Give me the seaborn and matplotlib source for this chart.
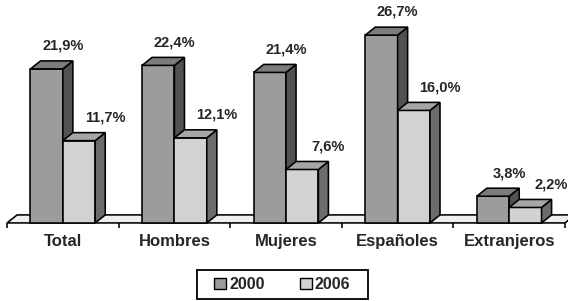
import numpy as np
import pandas as pd
import seaborn as sns
import matplotlib.pyplot as plt
from matplotlib.patches import Polygon, Rectangle

# datos
categorias = ["Total", "Hombres", "Mujeres", "Españoles", "Extranjeros"]
anios = ["2000", "2006"]
valores_2000 = [21.9, 22.4, 21.4, 26.7, 3.8]
valores_2006 = [11.7, 12.1, 7.6, 16.0, 2.2]
etiquetas_2000 = ["21,9%", "22,4%", "21,4%", "26,7%", "3,8%"]
etiquetas_2006 = ["11,7%", "12,1%", "7,6%", "16,0%", "2,2%"]

color_frente = {"2000": "#9c9c9c", "2006": "#d2d2d2"}
color_techo = {"2000": "#7c7c7c", "2006": "#a6a6a6"}
color_lado = {"2000": "#525252", "2006": "#6c6c6c"}

df = pd.DataFrame({
    "categoria": categorias * 2,
    "anio": ["2000"] * len(categorias) + ["2006"] * len(categorias),
    "valor": valores_2000 + valores_2006,
})
etiquetas = {"2000": etiquetas_2000, "2006": etiquetas_2006}

sns.set_style("white")
plt.rcParams["font.family"] = ["Liberation Sans", "DejaVu Sans"]

fig = plt.figure(figsize=(5.68, 3.01), dpi=100)
ax = fig.add_axes([0, 0, 1, 1])

sns.barplot(data=df, x="categoria", y="valor", hue="anio", palette=color_frente,
            width=0.58, edgecolor="black", linewidth=1.15, saturation=1,
            legend=False, ax=ax)

ax.set_xlim(-0.563, 4.527)
ax.set_ylim(-11.1, 31.7)
ax.axis("off")

# profundidad del efecto 3D
dx = 0.09
dy = 1.14

# suelo
suelo = Polygon([(-0.5, 0), (4.5, 0), (4.5 + dx, dy), (-0.5 + dx, dy)],
                facecolor="#efefef", edgecolor="black", lw=1.15, zorder=1)
ax.add_patch(suelo)
ax.vlines(np.arange(-0.5, len(categorias)), -0.65, 0, color="black", lw=1.15, zorder=1)

for i, cont in enumerate(ax.containers):
    anio = anios[i]
    for j, bar in enumerate(cont):
        x0 = bar.get_x()
        w = bar.get_width()
        h = bar.get_height()
        bar.set_zorder(3 + i)
        techo = Polygon([(x0, h), (x0 + w, h), (x0 + w + dx, h + dy), (x0 + dx, h + dy)],
                        facecolor=color_techo[anio], edgecolor="black", lw=1.15, zorder=3 + i)
        lado = Polygon([(x0 + w, 0), (x0 + w + dx, dy), (x0 + w + dx, h + dy), (x0 + w, h)],
                       facecolor=color_lado[anio], edgecolor="black", lw=1.15, zorder=3 + i)
        ax.add_patch(lado)
        ax.add_patch(techo)
        xt = x0 + w if i == 0 else x0 + w + dx
        ax.text(xt, h + 3.3, etiquetas[anio][j], ha="center", va="center",
                fontsize=10.5, fontweight="bold", zorder=6)

for k, cat in enumerate(categorias):
    ax.text(k, -2.7, cat, ha="center", va="center", fontsize=12, fontweight="bold")

# leyenda
handles = [Rectangle((0, 0), 1, 1, facecolor=color_frente[a], edgecolor="black", lw=1.0)
           for a in anios]
fig.legend(handles, anios, loc="center", bbox_to_anchor=(0.497, 0.055), ncol=2,
           frameon=False, prop={"weight": "bold", "size": 11.5},
           handlelength=0.75, handleheight=0.75, handletextpad=0.2, columnspacing=2.2)
fig.patches.append(Rectangle((197 / 568, 2 / 301), 171 / 568, 29 / 301,
                             transform=fig.transFigure, fill=False,
                             edgecolor="black", lw=1.3))

fig.savefig("out.png", dpi=100)
